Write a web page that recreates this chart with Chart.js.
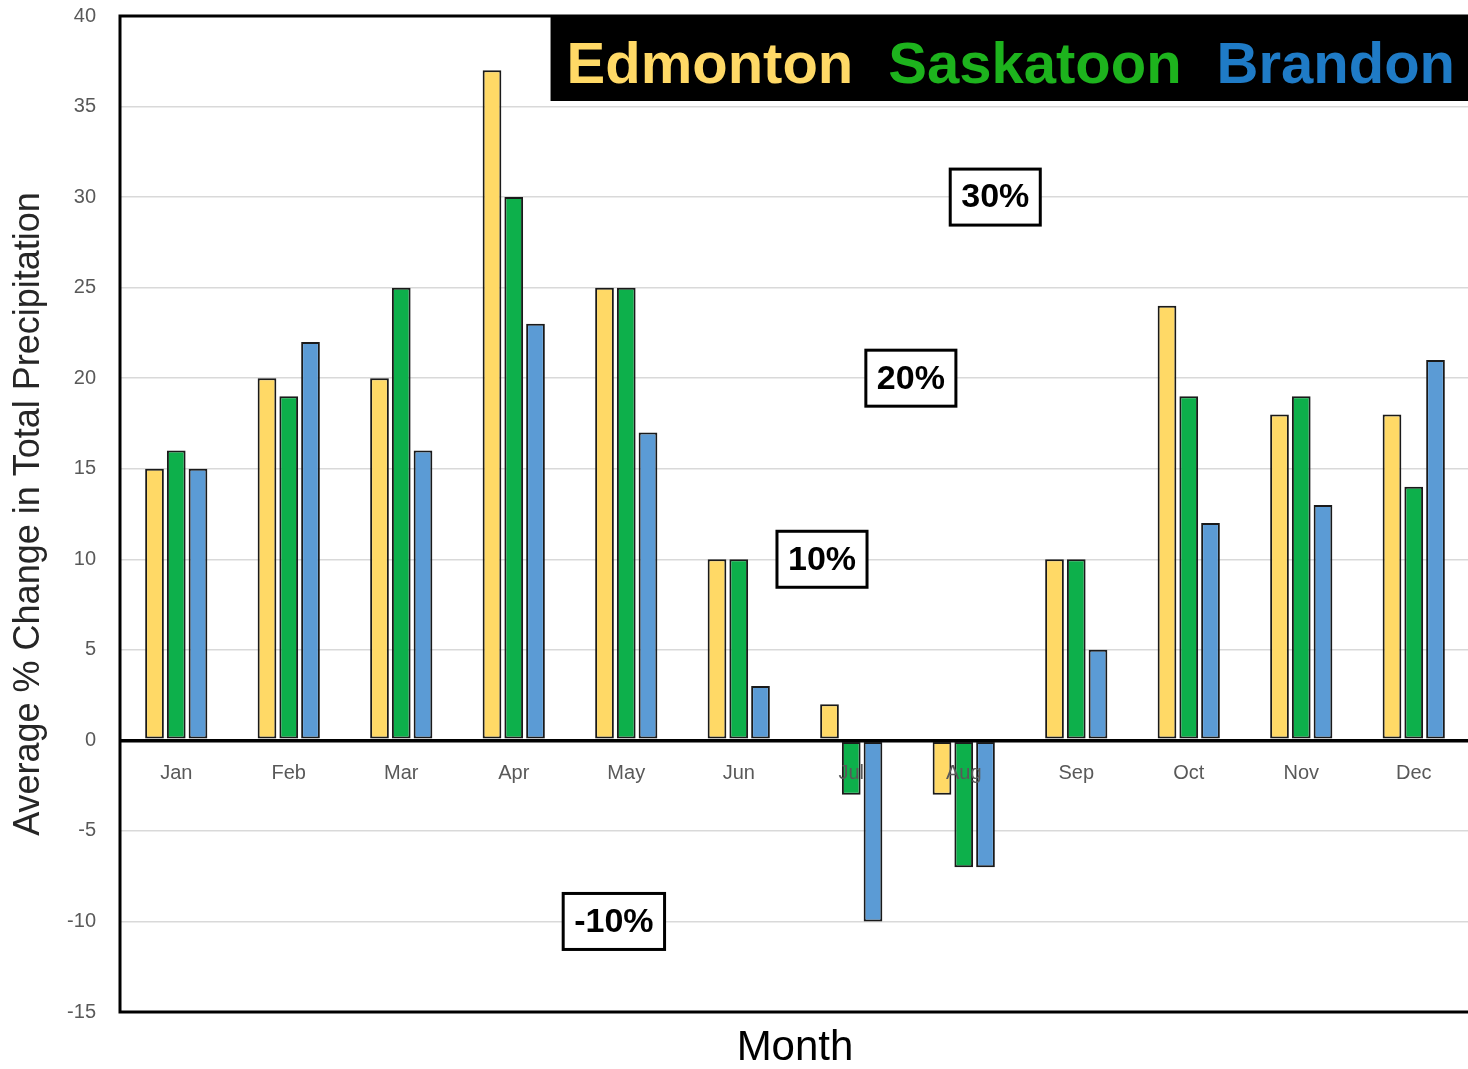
<!DOCTYPE html>
<html>
<head>
<meta charset="utf-8">
<script src="https://cdn.jsdelivr.net/npm/chart.js@4.4.1/dist/chart.umd.min.js"></script>
<style>
  html, body { margin: 0; padding: 0; background: #fff; overflow: hidden; }
  #lluvia { display: block; }
</style>
</head>
<body>
<canvas id="lluvia" width="1470" height="1069"></canvas>
<script>
// meses y cambio promedio (%) de precipitacion total por ciudad
const meses = ["Jan", "Feb", "Mar", "Apr", "May", "Jun", "Jul", "Aug", "Sep", "Oct", "Nov", "Dec"];
const edmonton = [15, 20, 20, 37, 25, 10, 2, -3, 10, 24, 18, 18];
const saskatoon = [16, 19, 25, 30, 25, 10, -3, -7, 10, 19, 19, 14];
const brandon = [15, 22, 16, 23, 17, 3, -10, -7, 5, 12, 13, 21];

// etiquetas de referencia dentro del grafico: texto, mes (indice) y valor
const notas = ["30%", "20%", "10%", "-10%"];
const notasMes = [7.28, 6.53, 5.74, 3.89];
const notasValor = [30, 20, 10, -10];

const gris = "#595959";
const fuente = "'Liberation Sans', Arial, sans-serif";

// marco negro del area de datos
const marco = {
  id: "marco",
  afterDraw(chart) {
    const { ctx, chartArea: a } = chart;
    ctx.save();
    ctx.strokeStyle = "#000";
    ctx.lineWidth = 3;
    ctx.beginPath();
    ctx.moveTo(a.right + 5, a.top);
    ctx.lineTo(a.left, a.top);
    ctx.lineTo(a.left, a.bottom);
    ctx.lineTo(a.right + 5, a.bottom);
    ctx.stroke();
    ctx.restore();
  }
};

// nombres de meses justo debajo de la linea del cero
const mesesEnCero = {
  id: "mesesEnCero",
  afterDatasetsDraw(chart) {
    const { ctx, scales: { x, y } } = chart;
    const y0 = y.getPixelForValue(0);
    ctx.save();
    ctx.font = "20px " + fuente;
    ctx.fillStyle = gris;
    ctx.textAlign = "center";
    ctx.textBaseline = "middle";
    meses.forEach((m, i) => ctx.fillText(m, x.getPixelForValue(i), y0 + 33));
    ctx.restore();
  }
};

// cajas con los porcentajes
const cajas = {
  id: "cajas",
  afterDatasetsDraw(chart) {
    const { ctx, scales: { x, y } } = chart;
    ctx.save();
    ctx.font = "bold 34px " + fuente;
    ctx.textAlign = "center";
    ctx.textBaseline = "middle";
    notas.forEach((t, i) => {
      const cx = x.getPixelForValue(notasMes[i]);
      const cy = y.getPixelForValue(notasValor[i]);
      const w = ctx.measureText(t).width + 22;
      const h = 56;
      ctx.fillStyle = "#fff";
      ctx.fillRect(cx - w / 2, cy - h / 2, w, h);
      ctx.strokeStyle = "#000";
      ctx.lineWidth = 3;
      ctx.strokeRect(cx - w / 2, cy - h / 2, w, h);
      ctx.fillStyle = "#000";
      ctx.fillText(t, cx, cy + 1);
    });
    ctx.restore();
  }
};

// leyenda negra arriba a la derecha con el nombre de cada ciudad en su color
const leyenda = {
  id: "leyenda",
  afterDraw(chart) {
    const { ctx, chartArea: a } = chart;
    const colores = ["#FFD966", "#1DB31D", "#1F7BC6"];
    ctx.save();
    ctx.font = "bold 58px " + fuente;
    const nombres = chart.data.datasets.map(d => d.label);
    const anchos = nombres.map(n => ctx.measureText(n).width);
    const hueco = 35;
    const total = anchos.reduce((s, w) => s + w, 0) + hueco * (nombres.length - 1);
    const izq = a.right - 15 - total - 16;
    ctx.fillStyle = "#000";
    ctx.fillRect(izq, a.top, a.right - izq + 5, 85);
    ctx.textBaseline = "alphabetic";
    let px = izq + 16;
    nombres.forEach((n, i) => {
      ctx.fillStyle = colores[i];
      ctx.fillText(n, px, a.top + 67);
      px += anchos[i] + hueco;
    });
    ctx.restore();
  }
};

const barra = (label, data, color) => ({
  label,
  data,
  backgroundColor: color,
  borderColor: "#1a1a1a",
  borderWidth: 2,
  borderSkipped: false,
  categoryPercentage: 0.58,
  barPercentage: 0.86
});

new Chart(document.getElementById("lluvia"), {
  type: "bar",
  data: {
    labels: meses,
    datasets: [
      barra("Edmonton", edmonton, "#FFD966"),
      barra("Saskatoon", saskatoon, "#0DB04B"),
      barra("Brandon", brandon, "#5B9BD5")
    ]
  },
  options: {
    responsive: false,
    animation: false,
    layout: { padding: { top: 16, right: 0, left: 0, bottom: 0 } },
    plugins: {
      legend: { display: false },
      tooltip: { enabled: false }
    },
    scales: {
      x: {
        afterFit: s => { s.height = 57; },
        grid: { display: false },
        border: { display: false },
        ticks: { display: false },
        title: {
          display: true,
          text: "Month",
          color: "#000",
          font: { family: "'Liberation Sans Narrow', " + fuente, size: 42, lineHeight: 1 },
          padding: { top: 0, bottom: 0 }
        }
      },
      y: {
        min: -15,
        max: 40,
        afterFit: s => { s.width = 120; s.paddingTop = 0; s.paddingBottom = 0; },
        border: { display: false },
        grid: {
          drawTicks: false,
          color: c => c.tick.value === 0 ? "#000" : "#d9d9d9",
          lineWidth: c => c.tick.value === 0 ? 3.5 : 1.5
        },
        ticks: {
          stepSize: 5,
          padding: 24,
          color: gris,
          font: { family: fuente, size: 20 }
        },
        title: {
          display: true,
          text: "Average % Change in Total Precipitation",
          color: "#262626",
          font: { family: fuente, size: 36 },
          padding: { top: 7, bottom: 0 }
        }
      }
    }
  },
  plugins: [marco, mesesEnCero, cajas, leyenda]
});
</script>
</body>
</html>
